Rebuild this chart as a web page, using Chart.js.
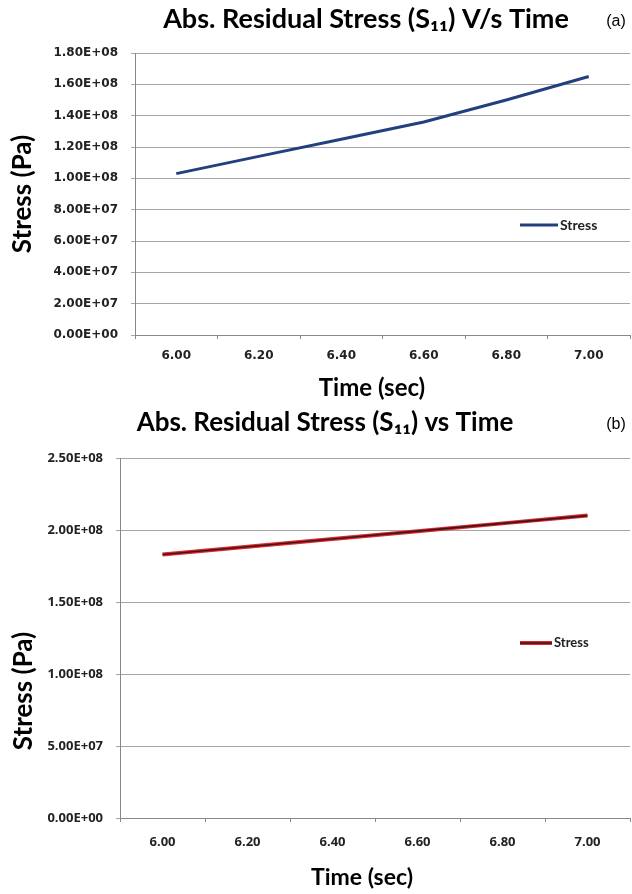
<!DOCTYPE html>
<html>
<head>
<meta charset="utf-8">
<script src="https://cdn.jsdelivr.net/npm/chart.js@4.4.1/dist/chart.umd.min.js"></script>
<style>
  body { margin: 0; background: #fff; }
  #top { position: absolute; left: 0; top: 0; width: 632px; height: 400px; }
  #bottom { position: absolute; left: 0; top: 400px; width: 632px; height: 494px; }
</style>
</head>
<body>
<div id="top"><canvas id="chartA"></canvas></div>
<div id="bottom"><canvas id="chartB"></canvas></div>
<script>
// data
const timeLabels = ["6.00", "6.20", "6.40", "6.60", "6.80", "7.00"];
const stressA = [1.03e8, 1.14e8, 1.25e8, 1.36e8, 1.50e8, 1.65e8];
const stressB = [1.83e8, 1.884e8, 1.938e8, 1.992e8, 2.046e8, 2.10e8];
const yTicksA = ["0.00E+00", "2.00E+07", "4.00E+07", "6.00E+07", "8.00E+07",
                 "1.00E+08", "1.20E+08", "1.40E+08", "1.60E+08", "1.80E+08"];
const yTicksB = ["0.00E+00", "5.00E+07", "1.00E+08", "1.50E+08", "2.00E+08", "2.50E+08"];
const seriesName = "Stress";

// draws free text (titles, axis titles, panel letters)
const textPlugin = {
    id: "freeText",
    afterDraw(chart, args, opts) {
        const ctx = chart.ctx;
        (opts.items || []).forEach(it => {
            ctx.save();
            ctx.font = it.font;
            ctx.fillStyle = it.color || "#000";
            ctx.textAlign = it.align || "center";
            ctx.textBaseline = "middle";
            ctx.translate(it.x, it.y);
            if (it.rotate) ctx.rotate(it.rotate);
            ctx.fillText(it.text, 0, 0);
            ctx.restore();
        });
    }
};

// small legend sitting inside the plot area
const insideLegend = {
    id: "insideLegend",
    afterDraw(chart, args, opts) {
        const ctx = chart.ctx;
        const x = opts.x, y = opts.y;
        chart.data.datasets.slice().reverse().forEach(ds => {
            ctx.save();
            ctx.strokeStyle = ds.borderColor;
            ctx.lineWidth = ds.borderWidth;
            ctx.beginPath();
            ctx.moveTo(x, y);
            ctx.lineTo(x + opts.len, y);
            ctx.stroke();
            ctx.restore();
        });
        ctx.save();
        ctx.font = opts.font;
        ctx.fillStyle = "#222";
        ctx.textBaseline = "middle";
        ctx.fillText(chart.data.datasets[0].label, x + opts.len + 2, y);
        ctx.restore();
    }
};

function buildChart(id, cfg) {
    return new Chart(document.getElementById(id), {
        type: "line",
        data: { labels: timeLabels, datasets: cfg.datasets },
        plugins: [textPlugin, insideLegend],
        options: {
            responsive: true,
            maintainAspectRatio: false,
            animation: false,
            layout: { padding: cfg.padding },
            elements: { point: { radius: 0 }, line: { tension: 0 } },
            plugins: {
                legend: { display: false },
                tooltip: { enabled: false },
                freeText: { items: cfg.texts },
                insideLegend: cfg.legend
            },
            scales: {
                x: {
                    offset: true,
                    grid: { offset: true, drawOnChartArea: false, drawTicks: true, tickLength: 4, color: "#888" },
                    border: { color: "#888" },
                    ticks: { color: "#222", font: cfg.tickFont, padding: cfg.xPad, maxRotation: 0 },
                    afterFit: s => { s.height = cfg.xHeight; }
                },
                y: {
                    min: 0,
                    max: cfg.yMax,
                    grid: { color: "#a6a6a6", tickLength: 4 },
                    border: { color: "#888" },
                    ticks: {
                        stepSize: cfg.yStep,
                        color: "#222",
                        font: cfg.tickFont,
                        padding: cfg.yPad,
                        callback: (v, i) => cfg.yTicks[i]
                    },
                    afterFit: s => { s.width = cfg.yWidth; }
                }
            }
        }
    });
}

const heavy = "Lato, 'Open Sans', sans-serif";

buildChart("chartA", {
    datasets: [{ label: seriesName, data: stressA, borderColor: "#23407e", borderWidth: 3 }],
    padding: { top: 53, right: 2, left: 0, bottom: 0 },
    yMax: 1.8e8, yStep: 2e7, yTicks: yTicksA,
    yWidth: 135, xHeight: 65, xPad: 10, yPad: 13,
    tickFont: { family: "DejaVu Sans", size: 12, weight: "bold" },
    legend: { x: 520, y: 225, len: 38, font: "bold 14px " + heavy },
    texts: [
        { text: "Abs. Residual Stress (S\u2081\u2081) V/s Time", x: 366, y: 19, font: "bold 27px " + heavy },
        { text: "(a)", x: 616, y: 22, font: "16px 'Liberation Sans', Arial, sans-serif" },
        { text: "Stress (Pa)", x: 23, y: 194, rotate: -Math.PI / 2, font: "bold 26px " + heavy },
        { text: "Time (sec)", x: 372, y: 388, font: "bold 24px " + heavy }
    ]
});

buildChart("chartB", {
    datasets: [
        { label: seriesName, data: stressB, borderColor: "#3a1818", borderWidth: 1.6, order: 0 },
        { label: seriesName, data: stressB, borderColor: "#e2262f", borderWidth: 4, order: 1 }
    ],
    padding: { top: 58, right: 2, left: 0, bottom: 0 },
    yMax: 2.5e8, yStep: 5e7, yTicks: yTicksB,
    yWidth: 120, xHeight: 76, xPad: 12, yPad: 13,
    tickFont: { family: "Open Sans", size: 13, weight: "bold" },
    legend: { x: 520, y: 243, len: 32, font: "bold 13px " + heavy },
    texts: [
        { text: "Abs. Residual Stress (S\u2081\u2081) vs Time", x: 325, y: 23, font: "bold 26px " + heavy },
        { text: "(b)", x: 616, y: 25, font: "16px 'Liberation Sans', Arial, sans-serif" },
        { text: "Stress (Pa)", x: 24, y: 291, rotate: -Math.PI / 2, font: "bold 26px " + heavy },
        { text: "Time (sec)", x: 362, y: 478, font: "bold 23px " + heavy }
    ]
});
</script>
</body>
</html>
